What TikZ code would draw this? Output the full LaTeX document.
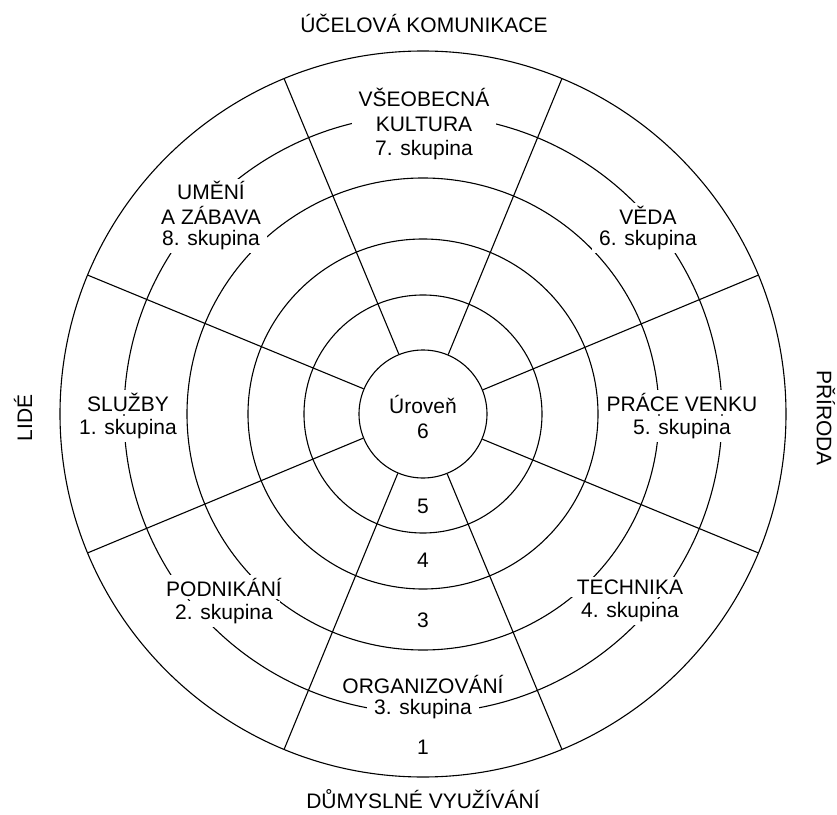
\documentclass[tikz,border=0pt]{standalone}
\usepackage{fontspec}
\setmainfont{Liberation Sans}
\usepackage{tikz}
\usetikzlibrary{positioning}

\begin{document}
\begin{tikzpicture}[x=1pt,y=1pt,
    ring/.style={line width=1.1pt},
    txt/.style={font=\fontsize{21}{24.5}\selectfont,align=center,inner sep=0pt},
    grp/.style={txt,fill=white,inner xsep=7pt,inner ysep=3pt}]
    \useasboundingbox (-423,-400) rectangle (414,414);

    % Kruznice
    \foreach \r in {119,175,236,299,363}
        \draw[ring] (0,0) circle[radius=\r];
    \node[circle,draw,line width=1.1pt,minimum size=128pt,inner sep=0pt] (ctr) at (0,0) {};

    % Paprsky
    \foreach \a in {22.5,67.5,...,337.5}
        \draw[ring] (ctr.\a) -- (\a:363);

    % Urovne
    \node[txt] (lvl6) at (0,-3) {Úroveň\\6};
    \node[txt] (lvl5) at (0,-92) {5};
    \node[txt] (lvl4) at (0,-146) {4};
    \node[txt] (lvl3) at (0,-206) {3};
    \node[txt] (lvl1) at (0,-333) {1};

    % Skupiny
    \node[grp] (sluzby) at (-295,12) {SLUŽBY};
    \node[grp] (sk1) at (-295,-15) {1. skupina};
    \node[grp] (podnik) at (-199,-173) {PODNIKÁNÍ};
    \node[grp] (sk2) at (-199,-200) {2. skupina};
    \node[grp] (organiz) at (0,-270) {ORGANIZOVÁNÍ};
    \node[grp] (sk3) at (0,-295) {3. skupina};
    \node[grp] (technika) at (207,-173) {TECHNIKA};
    \node[grp] (sk4) at (207,-198) {4. skupina};
    \node[grp] (prace) at (259,12) {PRÁCE VENKU};
    \node[grp] (sk5) at (259,-15) {5. skupina};
    \node[grp] (veda) at (225,199) {VĚDA};
    \node[grp] (sk6) at (225,174) {6. skupina};
    \node[grp] (kultura) at (1,304) {VŠEOBECNÁ\\KULTURA};
    \node[grp] (sk7) at (1,264) {7. skupina};
    \node[grp] (umeni) at (-212,211) {UMĚNÍ\\A ZÁBAVA};
    \node[grp] (sk8) at (-212,174) {8. skupina};

    % Okolni popisky
    \node[txt] (ucel) at (1,391) {ÚČELOVÁ KOMUNIKACE};
    \node[txt] (dumysl) at (0,-385) {DŮMYSLNÉ VYUŽÍVÁNÍ};
    \node[txt,rotate=90] (lide) at (-400,-4) {LIDÉ};
    \node[txt,rotate=-90] (priroda) at (403,-4) {PŘÍRODA};
\end{tikzpicture}
\end{document}
